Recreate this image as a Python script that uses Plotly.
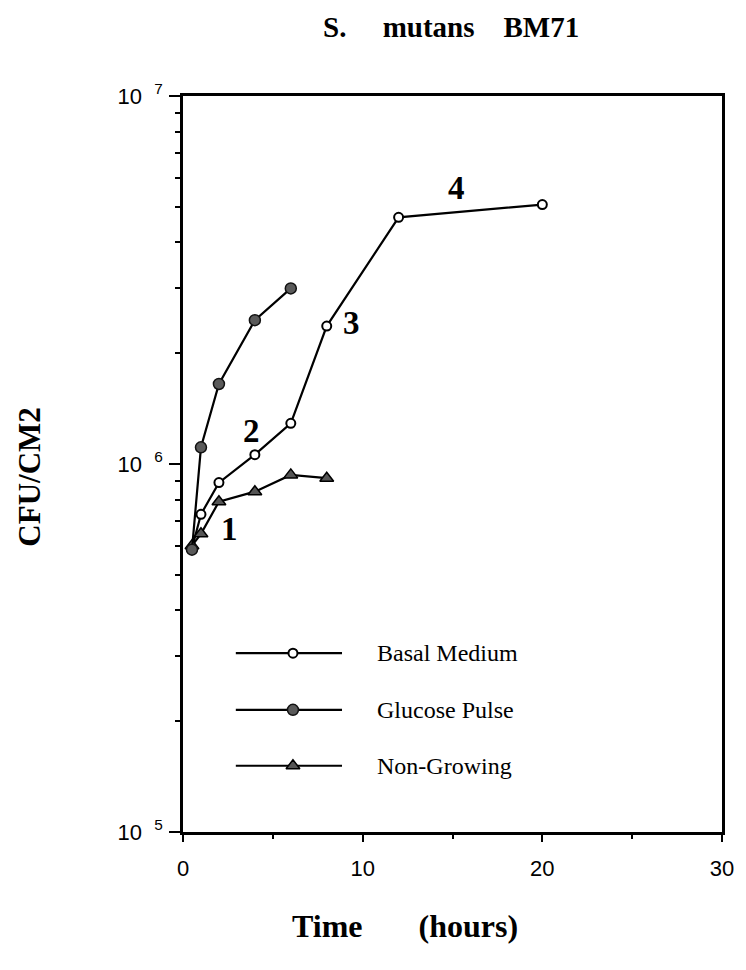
import math
import plotly.graph_objects as go

# ---- data ----
time_basal = [0.5, 1, 2, 4, 6, 8, 12, 20]
cfu_basal = [5.9e5, 7.3e5, 8.9e5, 1.06e6, 1.29e6, 2.37e6, 4.68e6, 5.07e6]

time_glucose = [0.5, 1, 2, 4, 6]
cfu_glucose = [5.85e5, 1.11e6, 1.65e6, 2.46e6, 3.0e6]

time_nongrowing = [0.5, 1, 2, 4, 6, 8]
cfu_nongrowing = [6.0e5, 6.46e5, 7.9e5, 8.41e5, 9.34e5, 9.15e5]

series_names = ["Basal Medium", "Glucose Pulse", "Non-Growing"]

phase_labels = ["1", "2", "3", "4"]
phase_label_time = [2.6, 3.8, 9.4, 15.2]
phase_label_cfu = [6.67e5, 1.23e6, 2.41e6, 5.62e6]

NB = "\u00a0"
x_tick_vals = [0, 10, 20, 30]
x_tick_text = ["0", "10", "20", "30"]
x_minor_vals = [5, 15, 25]
y_tick_vals = [1e5, 1e6, 1e7]
y_tick_text = ["10" + NB * 2 + "<sup>5</sup>", "10" + NB * 2 + "<sup>6</sup>", "10" + NB * 2 + "<sup>7</sup>"]
y_minor_vals = [m * 10 ** e for e in (5, 6) for m in range(2, 10)]

SERIF = "Liberation Serif, Times New Roman, serif"
SANS = "Liberation Sans, Arial, sans-serif"

fig = go.Figure()

fig.add_trace(go.Scatter(
    x=time_basal, y=cfu_basal, mode="lines+markers", name=series_names[0],
    line=dict(color="black", width=2.2),
    marker=dict(symbol="circle", size=9, color="white", line=dict(color="black", width=2)),
    showlegend=False))
fig.add_trace(go.Scatter(
    x=time_nongrowing, y=cfu_nongrowing, mode="lines+markers", name=series_names[2],
    line=dict(color="black", width=2.2),
    marker=dict(symbol="triangle-up", size=12, color="#555555", line=dict(color="black", width=1.5)),
    showlegend=False))
fig.add_trace(go.Scatter(
    x=time_glucose, y=cfu_glucose, mode="lines+markers", name=series_names[1],
    line=dict(color="black", width=2.2),
    marker=dict(symbol="circle", size=11, color="#5a5a5a", line=dict(color="#111111", width=1.5)),
    showlegend=False))

# ---- custom legend (overlay axis in fractions of the plot) ----
leg_x0, leg_x1, leg_xm, leg_tx = 0.098, 0.295, 0.204, 0.356
leg_y = [0.243, 0.166, 0.090]
leg_markers = [
    dict(symbol="circle", size=9, color="white", line=dict(color="black", width=2)),
    dict(symbol="circle", size=11, color="#5a5a5a", line=dict(color="#111111", width=1.5)),
    dict(symbol="triangle-up", size=12, color="#555555", line=dict(color="black", width=1.5)),
]
for name, yy, mk in zip(series_names, leg_y, leg_markers):
    fig.add_trace(go.Scatter(
        x=[leg_x0, leg_x1], y=[yy, yy], xaxis="x2", yaxis="y2", mode="lines",
        line=dict(color="black", width=2.2), showlegend=False, hoverinfo="skip"))
    fig.add_trace(go.Scatter(
        x=[leg_xm], y=[yy], xaxis="x2", yaxis="y2", mode="markers",
        marker=mk, showlegend=False, hoverinfo="skip"))
    fig.add_annotation(x=leg_tx, y=yy, xref="x2", yref="y2", text=name,
                       showarrow=False, xanchor="left", yanchor="middle",
                       font=dict(family=SERIF, size=24, color="black"))

for lab, tx, cy in zip(phase_labels, phase_label_time, phase_label_cfu):
    fig.add_annotation(x=tx, y=math.log10(cy), xref="x", yref="y", text="<b>%s</b>" % lab,
                       showarrow=False, xanchor="center", yanchor="middle",
                       font=dict(family=SERIF, size=33, color="black"))

fig.add_annotation(x=0.497, y=1.094, xref="paper", yref="paper",
                   text="<b>S." + NB * 5 + "mutans" + NB * 4 + "BM71</b>",
                   showarrow=False, xanchor="center", yanchor="middle",
                   font=dict(family=SERIF, size=29, color="black"))
fig.add_annotation(x=-0.285, y=0.482, xref="paper", yref="paper",
                   text="<b>CFU/CM2</b>", textangle=-90,
                   showarrow=False, xanchor="center", yanchor="middle",
                   font=dict(family=SERIF, size=31, color="black"))
fig.add_annotation(x=0.412, y=-0.128, xref="paper", yref="paper",
                   text="<b>Time" + NB * 7 + "(hours)</b>",
                   showarrow=False, xanchor="center", yanchor="middle",
                   font=dict(family=SERIF, size=32, color="black"))

fig.update_layout(
    width=746, height=970,
    margin=dict(l=183, r=17, t=96, b=138),
    paper_bgcolor="white", plot_bgcolor="white",
    showlegend=False,
    xaxis=dict(range=[0, 30], tickvals=x_tick_vals, ticktext=x_tick_text,
               ticks="outside", ticklen=7, tickwidth=2, tickcolor="black",
               ticklabelstandoff=8,
               showline=True, linecolor="black", linewidth=2.5, mirror=True,
               showgrid=False, zeroline=False,
               tickfont=dict(family=SANS, size=22, color="black"),
               minor=dict(tickvals=x_minor_vals, ticks="outside", ticklen=4,
                          tickwidth=2, tickcolor="black", showgrid=False)),
    yaxis=dict(type="log", range=[5, 7], tickvals=y_tick_vals, ticktext=y_tick_text,
               ticks="outside", ticklen=11, tickwidth=2, tickcolor="black",
               ticklabelstandoff=2,
               showline=True, linecolor="black", linewidth=2.5, mirror=True,
               showgrid=False, zeroline=False,
               tickfont=dict(family=SANS, size=22, color="black"),
               minor=dict(tickvals=y_minor_vals, ticks="outside", ticklen=5,
                          tickwidth=2, tickcolor="black", showgrid=False)),
    xaxis2=dict(overlaying="x", range=[0, 1], visible=False, fixedrange=True),
    yaxis2=dict(overlaying="y", range=[0, 1], visible=False, fixedrange=True),
)

fig.write_html("out.html",
               config={"displayModeBar": False},
               post_script="document.body.style.margin='0';document.body.style.overflow='hidden';")
